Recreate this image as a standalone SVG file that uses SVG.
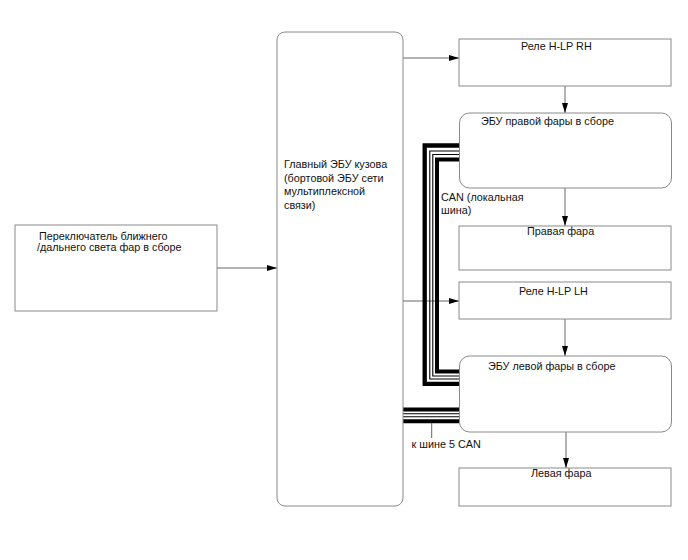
<svg xmlns="http://www.w3.org/2000/svg" width="688" height="560" viewBox="0 0 688 560">
<style>
.box{fill:#fff;stroke:#8a8a8a;stroke-width:1}
.t{font-family:"Liberation Sans",Arial,sans-serif;font-size:10.8px;fill:#111}
.c{fill:none;stroke:#666;stroke-width:1}
.bus{fill:none;stroke:#000;stroke-linejoin:miter}
</style>
<defs>
<marker id="ah" viewBox="0 0 10 6" refX="10" refY="3" markerWidth="10" markerHeight="6" markerUnits="userSpaceOnUse" orient="auto">
<path d="M0,0 L10,3 L0,6 Z" fill="#000"/>
</marker>
</defs>
<rect width="688" height="560" fill="#fff"/>
<g id="connectors">
<line class="c" x1="217" y1="268" x2="277" y2="268" marker-end="url(#ah)"/>
<line class="c" x1="403" y1="58" x2="459" y2="58" marker-end="url(#ah)"/>
<line class="c" x1="403" y1="301" x2="459" y2="301" marker-end="url(#ah)"/>
<line class="c" x1="565" y1="86" x2="565" y2="113" marker-end="url(#ah)"/>
<line class="c" x1="565" y1="188" x2="565" y2="226" marker-end="url(#ah)"/>
<line class="c" x1="565" y1="319" x2="565" y2="356" marker-end="url(#ah)"/>
<line class="c" x1="566" y1="432" x2="566" y2="468" marker-end="url(#ah)"/>
<g id="can-local">
<polyline class="bus" stroke-width="4.3" points="459,145.5 424.7,145.5 424.7,383.8 459,383.8"/>
<polyline class="bus" stroke-width="1.1" points="459,151 429.8,151 429.8,379 459,379"/>
<polyline class="bus" stroke-width="1.1" points="459,154.5 432.8,154.5 432.8,376 459,376"/>
<polyline class="bus" stroke-width="4" points="459,159.5 437,159.5 437,371.5 459,371.5"/>
</g>
<g id="can-bus5">
<line class="bus" stroke-width="4" x1="403" y1="409.5" x2="459" y2="409.5"/>
<line class="bus" stroke-width="1.1" x1="403" y1="413.8" x2="459" y2="413.8"/>
<line class="bus" stroke-width="1.1" x1="403" y1="416.8" x2="459" y2="416.8"/>
<line class="bus" stroke-width="4" x1="403" y1="421.3" x2="459" y2="421.3"/>
<line class="c" x1="431.7" y1="423" x2="431.7" y2="438"/>
</g>
</g>
<g id="switch">
<rect class="box" x="15" y="225" width="202" height="86"/>
<text class="t" x="39" y="240">Переключатель ближнего</text>
<text class="t" x="37" y="251">/дальнего света фар в сборе</text>
</g>
<g id="main-ecu">
<rect class="box" x="277" y="32" width="126" height="474" rx="8"/>
<text class="t" x="284" y="168">Главный ЭБУ кузова</text>
<text class="t" x="284" y="181.5">(бортовой ЭБУ сети</text>
<text class="t" x="284" y="195">мультиплексной</text>
<text class="t" x="284" y="208.5">связи)</text>
</g>
<g id="relay-rh">
<rect class="box" x="459" y="39" width="212" height="47"/>
<text class="t" x="521" y="50">Реле H-LP RH</text>
</g>
<g id="ecu-rh">
<rect class="box" x="459.5" y="113" width="212" height="75" rx="10"/>
<text class="t" x="481" y="125">ЭБУ правой фары в сборе</text>
</g>
<g id="headlight-rh">
<rect class="box" x="459" y="226" width="212" height="44"/>
<text class="t" x="527" y="235">Правая фара</text>
</g>
<g id="relay-lh">
<rect class="box" x="459" y="282" width="212" height="37"/>
<text class="t" x="519" y="295">Реле H-LP LH</text>
</g>
<g id="ecu-lh">
<rect class="box" x="459.5" y="356" width="212" height="76" rx="10"/>
<text class="t" x="488" y="370">ЭБУ левой фары в сборе</text>
</g>
<g id="headlight-lh">
<rect class="box" x="459" y="468" width="212" height="38"/>
<text class="t" x="531" y="477">Левая фара</text>
</g>
<g id="labels">
<text class="t" x="441" y="201">CAN (локальная</text>
<text class="t" x="441" y="214">шина)</text>
<text class="t" x="411.5" y="448">к шине 5 CAN</text>
</g>
</svg>
